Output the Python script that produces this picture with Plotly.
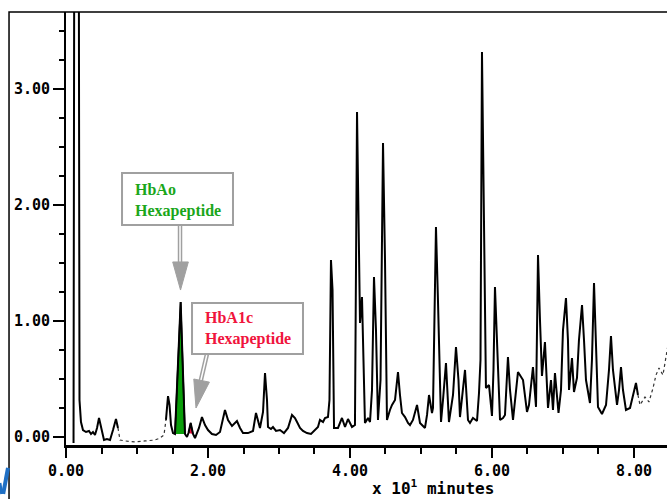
import plotly.graph_objects as go

# Retention time (x 10 minutes) and absorbance
time_x10min = [
    0.106, 0.120, 0.176, 0.190, 0.211, 0.239, 0.282, 0.324, 0.352, 0.380, 0.408,
    0.437, 0.465, 0.507, 0.535, 0.577, 0.620, 0.662, 0.704, 0.732, 0.761, 0.831,
    0.972, 1.113, 1.254, 1.324, 1.380, 1.408, 1.437, 1.458, 1.479, 1.507, 1.535,
    1.615, 1.676, 1.704, 1.725, 1.756, 1.789, 1.817, 1.873, 1.915, 1.958, 2.000,
    2.056, 2.113, 2.169, 2.239, 2.282, 2.338, 2.408, 2.451, 2.493, 2.563, 2.634,
    2.676, 2.704, 2.732, 2.775, 2.803, 2.831, 2.845, 2.887, 2.915, 2.958, 3.014,
    3.070, 3.127, 3.183, 3.225, 3.254, 3.296, 3.338, 3.394, 3.451, 3.507, 3.549,
    3.577, 3.620, 3.648, 3.690, 3.711, 3.732, 3.754, 3.775, 3.831, 3.887, 3.930,
    3.972, 4.028, 4.070, 4.099, 4.127, 4.141, 4.169, 4.190, 4.211, 4.254, 4.282,
    4.310, 4.338, 4.366, 4.394, 4.430, 4.465, 4.493, 4.521, 4.563, 4.592, 4.634,
    4.676, 4.704, 4.732, 4.775, 4.817, 4.845, 4.887, 4.944, 4.986, 5.056, 5.085,
    5.113, 5.155, 5.169, 5.190, 5.211, 5.239, 5.282, 5.310, 5.352, 5.394, 5.451,
    5.493, 5.528, 5.549, 5.577, 5.620, 5.662, 5.690, 5.732, 5.761, 5.789, 5.817,
    5.838, 5.859, 5.887, 5.915, 5.958, 6.000, 6.021, 6.042, 6.070, 6.113, 6.155,
    6.183, 6.225, 6.254, 6.296, 6.338, 6.366, 6.437, 6.493, 6.521, 6.577, 6.620,
    6.634, 6.648, 6.676, 6.704, 6.746, 6.789, 6.831, 6.859, 6.887, 6.937, 6.972,
    7.000, 7.042, 7.070, 7.085, 7.127, 7.155, 7.197, 7.225, 7.268, 7.296, 7.324,
    7.380, 7.408, 7.437, 7.465, 7.493, 7.549, 7.606, 7.648, 7.676, 7.704, 7.761,
    7.789, 7.817, 7.845, 7.887, 7.944, 7.986, 8.028, 8.056, 8.085, 8.155, 8.211,
    8.268, 8.310, 8.352, 8.408, 8.479,
]
absorbance = [
    -0.052, 6.000, 6.000, 0.319, 0.129, 0.060, 0.043, 0.052, 0.026, 0.043, 0.017,
    0.078, 0.164, 0.043, -0.026, -0.017, -0.026, 0.060, 0.155, 0.078, -0.026, -0.034,
    -0.043, -0.034, -0.026, -0.009, 0.017, 0.147, 0.353, 0.276, 0.103, 0.034, 0.026,
    1.164, 0.026, 0.000, 0.034, 0.121, 0.026, -0.009, 0.078, 0.172, 0.103, 0.060,
    0.026, 0.017, 0.043, 0.233, 0.147, 0.095, 0.138, 0.078, 0.034, 0.034, 0.052,
    0.207, 0.129, 0.078, 0.216, 0.552, 0.319, 0.086, 0.069, 0.086, 0.052, 0.060,
    0.034, 0.078, 0.190, 0.164, 0.129, 0.078, 0.052, 0.034, 0.026, 0.060, 0.086,
    0.147, 0.129, 0.164, 0.172, 0.319, 1.526, 1.267, 0.078, 0.078, 0.164, 0.086,
    0.155, 0.086, 0.103, 2.802, 1.612, 0.983, 1.207, 0.664, 0.121, 0.164, 0.129,
    0.405, 1.379, 0.922, 0.147, 0.491, 2.534, 1.526, 0.147, 0.233, 0.276, 0.319,
    0.560, 0.362, 0.207, 0.172, 0.121, 0.103, 0.147, 0.276, 0.121, 0.078, 0.190,
    0.362, 0.207, 0.250, 1.181, 1.810, 1.181, 0.129, 0.319, 0.638, 0.129, 0.362,
    0.776, 0.491, 0.172, 0.319, 0.578, 0.147, 0.121, 0.164, 0.147, 0.138, 0.379,
    0.664, 3.319, 1.612, 0.422, 0.448, 0.181, 0.578, 1.293, 0.836, 0.147, 0.164,
    0.190, 0.690, 0.405, 0.147, 0.405, 0.560, 0.491, 0.216, 0.276, 0.603, 0.259,
    0.922, 1.569, 1.009, 0.526, 0.819, 0.250, 0.491, 0.233, 0.552, 0.207, 0.405,
    0.922, 1.198, 0.836, 0.405, 0.681, 0.388, 0.509, 0.836, 1.138, 0.836, 0.491,
    0.293, 0.664, 1.328, 0.836, 0.259, 0.198, 0.276, 0.578, 0.871, 0.578, 0.276,
    0.405, 0.603, 0.405, 0.233, 0.250, 0.362, 0.466, 0.362, 0.276, 0.345, 0.302,
    0.422, 0.534, 0.595, 0.534, 0.793,
]

# Integrated peak areas
hbao_t = [1.535, 1.615, 1.676]
hbao_a = [0.026, 1.164, 0.026]
hba1c_t = [1.725, 1.756, 1.789]
hba1c_a = [0.034, 0.121, 0.026]

# Low-signal stretches drawn as a faint dotted trace
faint_ranges = [(0.74, 1.40), (8.07, 9.0)]

x_ticks = [0, 2, 4, 6, 8]
x_tick_labels = ["0.00", "2.00", "4.00", "6.00", "8.00"]
y_ticks = [0, 1, 2, 3]
y_tick_labels = ["0.00", "1.00", "2.00", "3.00"]


def is_faint(xm):
    return any(a <= xm <= b for a, b in faint_ranges)


# split into runs of solid / faint segments
solid_x, solid_y, faint_x, faint_y = [], [], [], []
prev = None
for i in range(len(time_x10min) - 1):
    f = is_faint((time_x10min[i] + time_x10min[i + 1]) / 2)
    tx, ty = (faint_x, faint_y) if f else (solid_x, solid_y)
    if prev != f:
        if tx:
            tx.append(None)
            ty.append(None)
        tx.append(time_x10min[i])
        ty.append(absorbance[i])
    tx.append(time_x10min[i + 1])
    ty.append(absorbance[i + 1])
    prev = f

fig = go.Figure()
fig.add_trace(go.Scatter(x=hbao_t, y=hbao_a, fill="toself", fillcolor="#0a9e0a",
                         mode="lines", line=dict(color="black", width=1.5)))
fig.add_trace(go.Scatter(x=hba1c_t, y=hba1c_a, fill="toself", fillcolor="#e8103c",
                         mode="lines", line=dict(color="black", width=1.2)))
fig.add_trace(go.Scatter(x=faint_x, y=faint_y, mode="lines",
                         line=dict(color="#333333", width=1.2, dash="dot")))
fig.add_trace(go.Scatter(x=solid_x, y=solid_y, mode="lines",
                         line=dict(color="black", width=2)))

GRAY = "#a0a0a0"
shapes = []
# annotation boxes
shapes.append(dict(type="rect", xref="x", yref="y", x0=0.789, x1=2.352, y0=1.828, y1=2.276,
                   fillcolor="white", line=dict(color=GRAY, width=2), layer="above"))
shapes.append(dict(type="rect", xref="x", yref="y", x0=1.775, x1=3.338, y0=0.716, y1=1.155,
                   fillcolor="white", line=dict(color=GRAY, width=2), layer="above"))
# arrow 1 (double-line shaft + head)
shapes.append(dict(type="line", xref="x", yref="y", x0=1.606, x1=1.606, y0=1.828, y1=1.500,
                   line=dict(color=GRAY, width=4.5), layer="above"))
shapes.append(dict(type="line", xref="x", yref="y", x0=1.606, x1=1.606, y0=1.818, y1=1.500,
                   line=dict(color="white", width=1.5), layer="above"))
shapes.append(dict(type="path", xref="x", yref="y",
                   path="M 1.503,1.509 L 1.723,1.509 L 1.613,1.267 Z",
                   fillcolor=GRAY, line=dict(color=GRAY, width=1), layer="above"))
# arrow 2
shapes.append(dict(type="line", xref="x", yref="y", x0=1.986, x1=1.894, y0=0.716, y1=0.475,
                   line=dict(color=GRAY, width=4.5), layer="above"))
shapes.append(dict(type="line", xref="x", yref="y", x0=1.982, x1=1.894, y0=0.706, y1=0.475,
                   line=dict(color="white", width=1.5), layer="above"))
shapes.append(dict(type="path", xref="x", yref="y",
                   path="M 2.020,0.473 L 1.800,0.500 L 1.831,0.250 Z",
                   fillcolor=GRAY, line=dict(color=GRAY, width=1), layer="above"))
# outer frame (left and top)
shapes.append(dict(type="path", xref="paper", yref="paper",
                   path="M -0.0948,-0.14 L -0.0948,1.0 L 1.01,1.0",
                   line=dict(color="black", width=1.5)))
# partial blue logo at bottom-left
shapes.append(dict(type="line", xref="paper", yref="paper", x0=-0.0965, y0=-0.053,
                   x1=-0.1045, y1=-0.113, line=dict(color="#1f6fc4", width=4)))
shapes.append(dict(type="line", xref="paper", yref="paper", x0=-0.1100, y0=-0.088,
                   x1=-0.1070, y1=-0.113, line=dict(color="#1f6fc4", width=3)))

annotations = [
    dict(xref="x", yref="y", x=0.944, y=2.043, xanchor="left", yanchor="middle",
         align="left", showarrow=False, text="HbAo<br>Hexapeptide",
         font=dict(family="Liberation Serif", size=16, color="#1aa61a", weight="bold")),
    dict(xref="x", yref="y", x=1.930, y=0.935, xanchor="left", yanchor="middle",
         align="left", showarrow=False, text="HbA1c<br>Hexapeptide",
         font=dict(family="Liberation Serif", size=16, color="#f0143c", weight="bold")),
    dict(xref="paper", yref="paper", x=0.611, y=-0.098, xanchor="center", yanchor="middle",
         showarrow=False, text="x 10<sup>1</sup> minutes",
         font=dict(family="DejaVu Sans Mono", size=16, color="black", weight="bold")),
]

tickfont = dict(family="DejaVu Sans Mono", size=15, color="black", weight="bold")
fig.update_layout(
    width=667, height=499, autosize=False,
    margin=dict(l=66, r=0, t=12, b=54),
    paper_bgcolor="white", plot_bgcolor="white",
    showlegend=False, shapes=shapes, annotations=annotations,
    xaxis=dict(range=[0, 8.465], tickvals=x_ticks, ticktext=x_tick_labels,
               ticks="outside", ticklen=10, tickwidth=2, tickcolor="black",
               showline=True, linewidth=2.5, linecolor="black",
               showgrid=False, zeroline=False, tickfont=tickfont,
               minor=dict(tick0=0, dtick=0.5, ticks="outside", ticklen=6,
                          tickwidth=2, tickcolor="black", showgrid=False)),
    yaxis=dict(range=[-0.069, 3.664], tickvals=y_ticks, ticktext=y_tick_labels,
               ticks="outside", ticklen=11, tickwidth=2, tickcolor="black",
               showline=True, linewidth=2, linecolor="black",
               showgrid=False, zeroline=False, tickfont=tickfont,
               minor=dict(tick0=0, dtick=0.25, ticks="outside", ticklen=5,
                          tickwidth=2, tickcolor="black", showgrid=False)),
)

fig.write_html("out.html", config={"displayModeBar": False},
               post_script="document.body.style.margin='0';")
